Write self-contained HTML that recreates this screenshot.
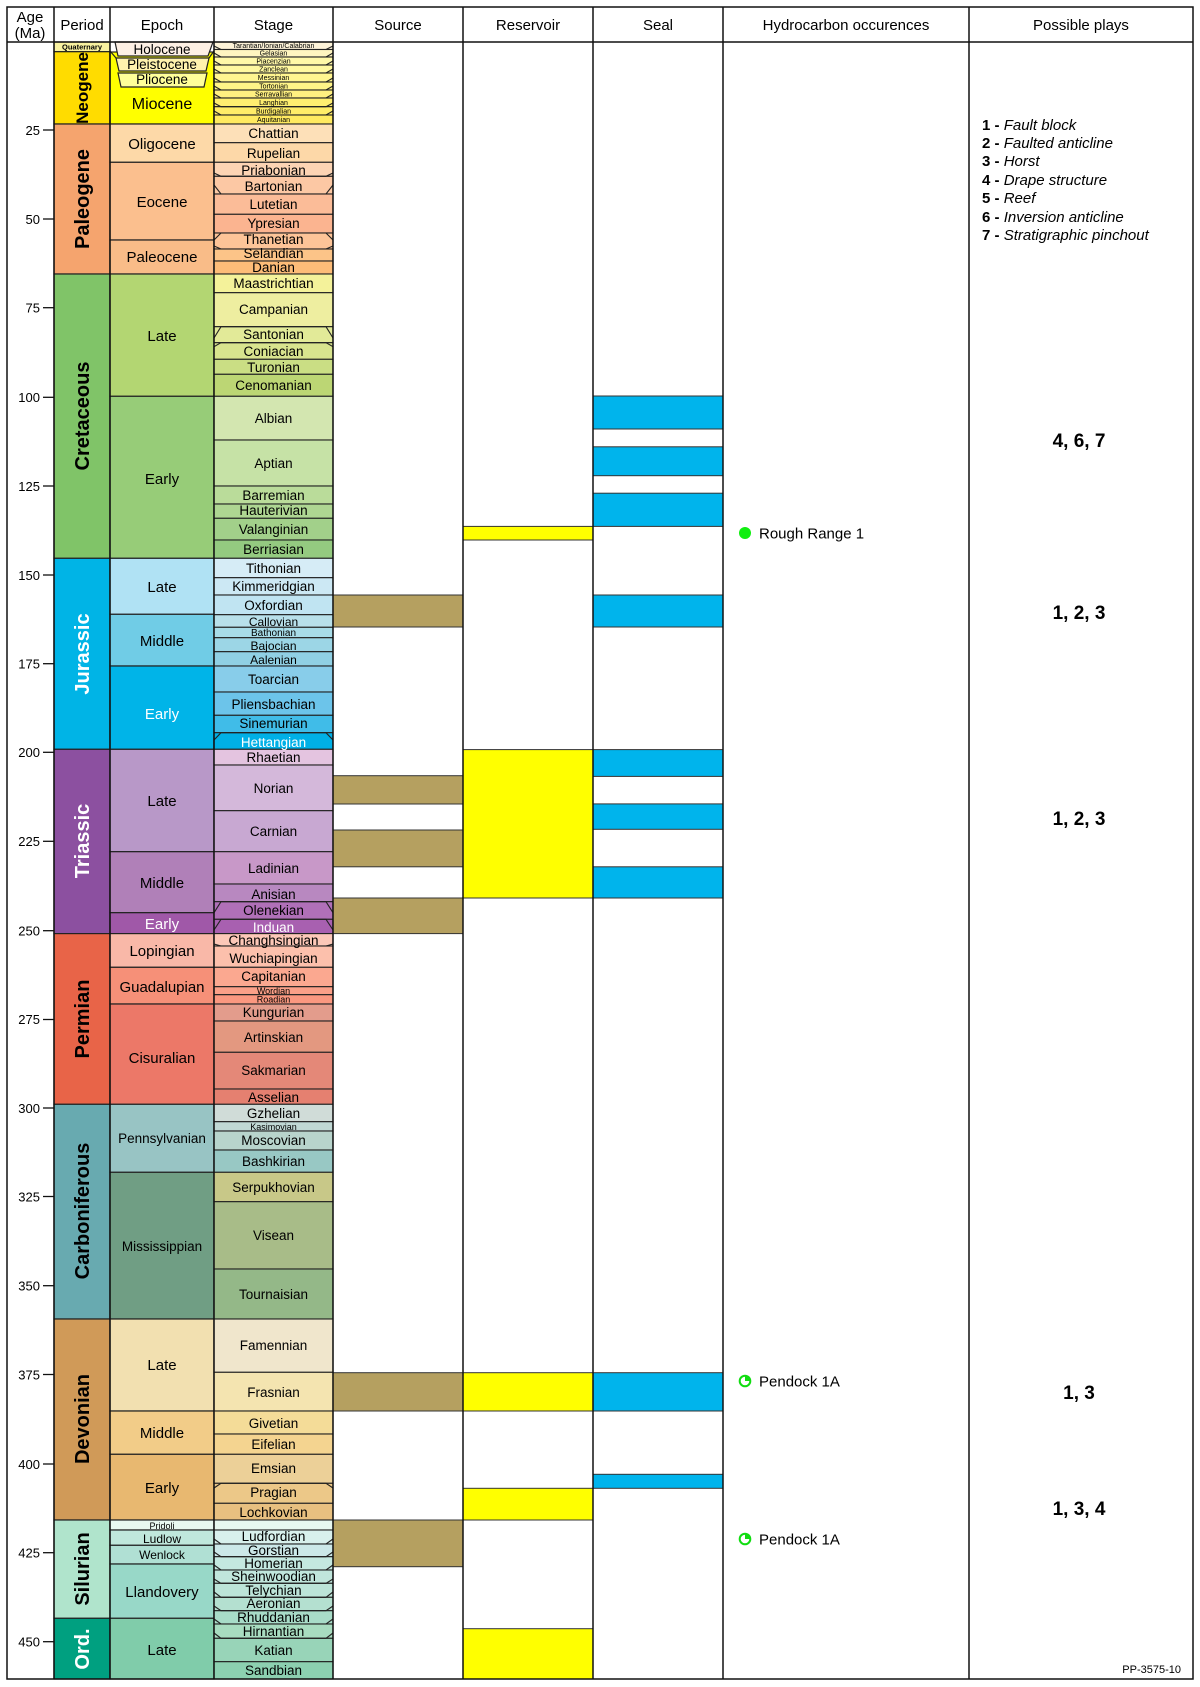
<!DOCTYPE html>
<html><head><meta charset="utf-8"><style>
html,body{margin:0;padding:0;background:#fff;}
svg{display:block;font-family:"Liberation Sans",Arial,sans-serif;}
</style></head><body>
<svg width="1200" height="1687" viewBox="0 0 1200 1687" xmlns="http://www.w3.org/2000/svg">
<rect x="0" y="0" width="1200" height="1687" fill="#fff"/>
<!-- periods -->
<g stroke="#222" stroke-width="1.2">
<rect x="54" y="42" width="56" height="9.7" fill="#f9f2a0"/>
<rect x="54" y="51.7" width="56" height="72.3" fill="#ffdc00"/>
<rect x="54" y="124" width="56" height="150" fill="#f5a46e"/>
<rect x="54" y="274" width="56" height="284.3" fill="#80c468"/>
<rect x="54" y="558.3" width="56" height="191" fill="#00b4e6"/>
<rect x="54" y="749.3" width="56" height="184.3" fill="#8c50a0"/>
<rect x="54" y="933.6" width="56" height="170.7" fill="#e86448"/>
<rect x="54" y="1104.3" width="56" height="214.7" fill="#68aab0"/>
<rect x="54" y="1319" width="56" height="201" fill="#d09a58"/>
<rect x="54" y="1520" width="56" height="98.3" fill="#b0e4cc"/>
<rect x="54" y="1618.3" width="56" height="60.7" fill="#00a080"/>
</g>
<g font-weight="bold" font-size="20" text-anchor="middle">
<text x="82" y="49.5" font-size="7.5" text-anchor="middle">Quaternary</text>
<text transform="translate(88,88) rotate(-90)" font-size="17">Neogene</text>
<text transform="translate(89,199) rotate(-90)">Paleogene</text>
<text transform="translate(89,416) rotate(-90)">Cretaceous</text>
<text transform="translate(89,654) rotate(-90)" fill="#fff">Jurassic</text>
<text transform="translate(89,841) rotate(-90)" fill="#fff">Triassic</text>
<text transform="translate(89,1019) rotate(-90)">Permian</text>
<text transform="translate(89,1211) rotate(-90)">Carboniferous</text>
<text transform="translate(89,1419) rotate(-90)">Devonian</text>
<text transform="translate(89,1569) rotate(-90)">Silurian</text>
<text transform="translate(89,1649) rotate(-90)" fill="#fff">Ord.</text>
</g>
<!-- epochs -->
<g stroke="#222" stroke-width="1.2">
<rect x="110" y="42" width="104" height="10" fill="#fff" stroke="none"/>
<rect x="110" y="52" width="104" height="72" fill="#ffff00"/>
<polygon points="115,42 213,42 208,56 118,56" fill="#fdf0e4"/>
<polygon points="116,58 209,58 206,71 119,71" fill="#fff2ae"/>
<polygon points="118,73 207,73 204,87 121,87" fill="#ffff99"/>
<polyline points="110,51 116,58" fill="none"/>
<polyline points="214,51 209,58" fill="none"/>
<polyline points="110,124 110,52" fill="none"/>
<rect x="110" y="124" width="104" height="38.3" fill="#fdd9a8"/>
<rect x="110" y="162.3" width="104" height="77.7" fill="#fbbf8e"/>
<rect x="110" y="240" width="104" height="34" fill="#f9bc88"/>
<rect x="110" y="274" width="104" height="122.3" fill="#b3d672"/>
<rect x="110" y="396.3" width="104" height="162" fill="#97cc78"/>
<rect x="110" y="558.3" width="104" height="56" fill="#b0e2f4"/>
<rect x="110" y="614.3" width="104" height="51.7" fill="#70cce6"/>
<rect x="110" y="666" width="104" height="83.3" fill="#00b4e8"/>
<rect x="110" y="749.3" width="104" height="102.4" fill="#b898c8"/>
<rect x="110" y="851.7" width="104" height="61" fill="#b080b8"/>
<rect x="110" y="912.7" width="104" height="20.9" fill="#a058a8"/>
<rect x="110" y="933.6" width="104" height="33.7" fill="#f9b8a8"/>
<rect x="110" y="967.3" width="104" height="36.7" fill="#f69078"/>
<rect x="110" y="1004" width="104" height="100.3" fill="#ec7868"/>
<rect x="110" y="1104.3" width="104" height="68" fill="#98c4c4"/>
<rect x="110" y="1172.3" width="104" height="146.7" fill="#709e84"/>
<rect x="110" y="1319" width="104" height="92" fill="#f2e0b0"/>
<rect x="110" y="1411" width="104" height="43.3" fill="#f2cc88"/>
<rect x="110" y="1454.3" width="104" height="65.7" fill="#e8b870"/>
<rect x="110" y="1520" width="104" height="10" fill="#e8f8f0"/>
<rect x="110" y="1530" width="104" height="15.3" fill="#c0e8dc"/>
<rect x="110" y="1545.3" width="104" height="18.7" fill="#b0e0d4"/>
<rect x="110" y="1564" width="104" height="54.3" fill="#98d8c8"/>
<rect x="110" y="1618.3" width="104" height="60.7" fill="#80ccaa"/>
</g>
<g font-size="15" text-anchor="middle">
<text x="162" y="54" font-size="13.5">Holocene</text>
<text x="162" y="69" font-size="13.5">Pleistocene</text>
<text x="162" y="84" font-size="13.5">Pliocene</text>
<text x="162" y="109" font-size="16">Miocene</text>
<text x="162" y="149">Oligocene</text>
<text x="162" y="207">Eocene</text>
<text x="162" y="262">Paleocene</text>
<text x="162" y="341">Late</text>
<text x="162" y="484">Early</text>
<text x="162" y="592">Late</text>
<text x="162" y="646">Middle</text>
<text x="162" y="719" fill="#fff">Early</text>
<text x="162" y="806">Late</text>
<text x="162" y="888">Middle</text>
<text x="162" y="929" fill="#fff">Early</text>
<text x="162" y="956">Lopingian</text>
<text x="162" y="992">Guadalupian</text>
<text x="162" y="1063">Cisuralian</text>
<text x="162" y="1143" font-size="13.5">Pennsylvanian</text>
<text x="162" y="1251" font-size="13.5">Mississippian</text>
<text x="162" y="1370">Late</text>
<text x="162" y="1438">Middle</text>
<text x="162" y="1493">Early</text>
<text x="162" y="1529" font-size="9">Pridoli</text>
<text x="162" y="1543" font-size="12">Ludlow</text>
<text x="162" y="1559" font-size="12">Wenlock</text>
<text x="162" y="1597">Llandovery</text>
<text x="162" y="1655">Late</text>
</g>
<!-- stages -->
<g stroke="#222" stroke-width="1.1">
<rect x="214" y="42" width="119" height="7.5" fill="#fdf3d8"/>
<rect x="214" y="49.5" width="119" height="7.5" fill="#fff5c0"/>
<rect x="214" y="57" width="119" height="8" fill="#fff8a8"/>
<rect x="214" y="65" width="119" height="8" fill="#fff8a0"/>
<rect x="214" y="73" width="119" height="9" fill="#fff590"/>
<rect x="214" y="82" width="119" height="8" fill="#fff488"/>
<rect x="214" y="90" width="119" height="8" fill="#fff080"/>
<rect x="214" y="98" width="119" height="8.7" fill="#ffee70"/>
<rect x="214" y="106.7" width="119" height="8.3" fill="#ffec68"/>
<rect x="214" y="115" width="119" height="9" fill="#ffea60"/>
<rect x="214" y="124" width="119" height="18.7" fill="#fde0b8"/>
<rect x="214" y="142.7" width="119" height="19.6" fill="#fdd8a8"/>
<rect x="214" y="162.3" width="119" height="14" fill="#fcd4b4"/>
<rect x="214" y="176.3" width="119" height="17.7" fill="#fcc8a4"/>
<rect x="214" y="194" width="119" height="20.3" fill="#fbbc98"/>
<rect x="214" y="214.3" width="119" height="18.7" fill="#fbb490"/>
<rect x="214" y="233" width="119" height="16" fill="#fdc498"/>
<rect x="214" y="249" width="119" height="12" fill="#fcc488"/>
<rect x="214" y="261" width="119" height="13" fill="#fdbc78"/>
<rect x="214" y="274" width="119" height="18.7" fill="#f4f29a"/>
<rect x="214" y="292.7" width="119" height="34" fill="#eeeea0"/>
<rect x="214" y="326.7" width="119" height="16" fill="#e2ea98"/>
<rect x="214" y="342.7" width="119" height="16.6" fill="#d8e48e"/>
<rect x="214" y="359.3" width="119" height="15" fill="#cade84"/>
<rect x="214" y="374.3" width="119" height="22" fill="#bcd674"/>
<rect x="214" y="396.3" width="119" height="43.7" fill="#d3e6b0"/>
<rect x="214" y="440" width="119" height="46" fill="#c6e2a6"/>
<rect x="214" y="486" width="119" height="18" fill="#badc9a"/>
<rect x="214" y="504" width="119" height="14.3" fill="#aed692"/>
<rect x="214" y="518.3" width="119" height="21.7" fill="#a2d08a"/>
<rect x="214" y="540" width="119" height="18.3" fill="#94ca80"/>
<rect x="214" y="558.3" width="119" height="19.4" fill="#d6ecf6"/>
<rect x="214" y="577.7" width="119" height="17.3" fill="#cce8f4"/>
<rect x="214" y="595" width="119" height="19.7" fill="#c0e4f2"/>
<rect x="214" y="614.7" width="119" height="12.6" fill="#b8e0ea"/>
<rect x="214" y="627.3" width="119" height="10.4" fill="#a8dce8"/>
<rect x="214" y="637.7" width="119" height="14" fill="#9cd6e6"/>
<rect x="214" y="651.7" width="119" height="14.3" fill="#90d0e4"/>
<rect x="214" y="666" width="119" height="26" fill="#88cdea"/>
<rect x="214" y="692" width="119" height="23.3" fill="#6cc4ea"/>
<rect x="214" y="715.3" width="119" height="17.4" fill="#40bce8"/>
<rect x="214" y="732.7" width="119" height="16.6" fill="#00b0e6"/>
<rect x="214" y="749.3" width="119" height="15.7" fill="#e4c4e0"/>
<rect x="214" y="765" width="119" height="45.7" fill="#d4b8da"/>
<rect x="214" y="810.7" width="119" height="41" fill="#c8a8d2"/>
<rect x="214" y="851.7" width="119" height="32.3" fill="#c898c8"/>
<rect x="214" y="884" width="119" height="17.7" fill="#b888c0"/>
<rect x="214" y="901.7" width="119" height="17.6" fill="#b070b8"/>
<rect x="214" y="919.3" width="119" height="14.3" fill="#a860b0"/>
<rect x="214" y="933.6" width="119" height="12.4" fill="#fcc8b8"/>
<rect x="214" y="946" width="119" height="21.3" fill="#fcc0ac"/>
<rect x="214" y="967.3" width="119" height="19.4" fill="#fba890"/>
<rect x="214" y="986.7" width="119" height="8" fill="#fba088"/>
<rect x="214" y="994.7" width="119" height="9.3" fill="#fb9880"/>
<rect x="214" y="1004" width="119" height="17" fill="#e39c8c"/>
<rect x="214" y="1021" width="119" height="31.3" fill="#e39880"/>
<rect x="214" y="1052.3" width="119" height="36.7" fill="#e48878"/>
<rect x="214" y="1089" width="119" height="15.3" fill="#e58070"/>
<rect x="214" y="1104.3" width="119" height="17.4" fill="#d0dcd8"/>
<rect x="214" y="1121.7" width="119" height="9.3" fill="#c0d8d4"/>
<rect x="214" y="1131" width="119" height="19" fill="#b8d4cc"/>
<rect x="214" y="1150" width="119" height="22.3" fill="#98c8c4"/>
<rect x="214" y="1172.3" width="119" height="29.4" fill="#c8c888"/>
<rect x="214" y="1201.7" width="119" height="67.3" fill="#a8bc88"/>
<rect x="214" y="1269" width="119" height="50" fill="#94b888"/>
<rect x="214" y="1319" width="119" height="53.3" fill="#f0e6cc"/>
<rect x="214" y="1372.3" width="119" height="38.7" fill="#f4e4b0"/>
<rect x="214" y="1411" width="119" height="23" fill="#f4dc98"/>
<rect x="214" y="1434" width="119" height="20.3" fill="#f4d490"/>
<rect x="214" y="1454.3" width="119" height="29" fill="#ecd098"/>
<rect x="214" y="1483.3" width="119" height="20" fill="#ecc888"/>
<rect x="214" y="1503.3" width="119" height="16.7" fill="#e8c080"/>
<rect x="214" y="1520" width="119" height="10" fill="#e8f8f0"/>
<rect x="214" y="1530" width="119" height="14" fill="#d8f0ec"/>
<rect x="214" y="1544" width="119" height="12.7" fill="#cce8e8"/>
<rect x="214" y="1556.7" width="119" height="13.3" fill="#c4e8e0"/>
<rect x="214" y="1570" width="119" height="13.3" fill="#c0e6dc"/>
<rect x="214" y="1583.3" width="119" height="14" fill="#bce4d8"/>
<rect x="214" y="1597.3" width="119" height="13.4" fill="#b4e0d0"/>
<rect x="214" y="1610.7" width="119" height="13.3" fill="#a8dcc8"/>
<rect x="214" y="1624" width="119" height="14.3" fill="#a8dcc0"/>
<rect x="214" y="1638.3" width="119" height="23.4" fill="#98d4b8"/>
<rect x="214" y="1661.7" width="119" height="17.3" fill="#8cd0b0"/>
</g>
<!-- kinks -->
<g stroke="#222" stroke-width="1.1" fill="none">
<polyline points="214,46 221,49.5 326,49.5 333,46"/>
<polyline points="214,53 221,57 326,57 333,53"/>
<polyline points="214,61 221,65 326,65 333,61"/>
<polyline points="214,69 221,73 326,73 333,69"/>
<polyline points="214,78 221,82 326,82 333,78"/>
<polyline points="214,86 221,90 326,90 333,86"/>
<polyline points="214,94 221,98 326,98 333,94"/>
<polyline points="214,103 221,106.7 326,106.7 333,103"/>
<polyline points="214,111 221,115 326,115 333,111"/>
<polyline points="214,173 221,176.3 326,176.3 333,173"/>
<polyline points="214,185 221,194 326,194 333,185"/>
<polyline points="214,240 221,233 326,233 333,240"/>
<polyline points="214,246 221,249 326,249 333,246"/>
<polyline points="214,338 221,326.7 326,326.7 333,338"/>
<polyline points="214,346.7 221,342.7 326,342.7 333,346.7"/>
<polyline points="214,740 221,732.7 326,732.7 333,740"/>
<polyline points="214,912.7 221,901.7 326,901.7 333,912.7"/>
<polyline points="214,930 221,919.3 326,919.3 333,930"/>
<polyline points="214,944 221,946 326,946 333,944"/>
<polyline points="214,1488 221,1483.3 326,1483.3 333,1488"/>
<polyline points="214,1539 221,1544 326,1544 333,1539"/>
<polyline points="214,1552 221,1556.7 326,1556.7 333,1552"/>
<polyline points="214,1565 221,1570 326,1570 333,1565"/>
<polyline points="214,1579 221,1583.3 326,1583.3 333,1579"/>
<polyline points="214,1592 221,1597.3 326,1597.3 333,1592"/>
<polyline points="214,1606 221,1610.7 326,1610.7 333,1606"/>
<polyline points="214,1619 221,1624 326,1624 333,1619"/>
<polyline points="214,1633 221,1638.3 326,1638.3 333,1633"/>
</g>
<g font-size="13.5" text-anchor="middle">
<g font-size="7">
<text x="273.5" y="48">Tarantian/Ionian/Calabrian</text>
<text x="273.5" y="55.5">Gelasian</text>
<text x="273.5" y="63.5">Piacenzian</text>
<text x="273.5" y="71.5">Zanclean</text>
<text x="273.5" y="80">Messinian</text>
<text x="273.5" y="88.5">Tortonian</text>
<text x="273.5" y="96.5">Serravallian</text>
<text x="273.5" y="105">Langhian</text>
<text x="273.5" y="113.5">Burdigalian</text>
<text x="273.5" y="122">Aquitanian</text>
</g>
<text x="273.5" y="138">Chattian</text>
<text x="273.5" y="158">Rupelian</text>
<text x="273.5" y="175">Priabonian</text>
<text x="273.5" y="191">Bartonian</text>
<text x="273.5" y="209">Lutetian</text>
<text x="273.5" y="228">Ypresian</text>
<text x="273.5" y="244">Thanetian</text>
<text x="273.5" y="258">Selandian</text>
<text x="273.5" y="272">Danian</text>
<text x="273.5" y="288">Maastrichtian</text>
<text x="273.5" y="314">Campanian</text>
<text x="273.5" y="339">Santonian</text>
<text x="273.5" y="356">Coniacian</text>
<text x="273.5" y="372">Turonian</text>
<text x="273.5" y="390">Cenomanian</text>
<text x="273.5" y="423">Albian</text>
<text x="273.5" y="468">Aptian</text>
<text x="273.5" y="500">Barremian</text>
<text x="273.5" y="515">Hauterivian</text>
<text x="273.5" y="534">Valanginian</text>
<text x="273.5" y="554">Berriasian</text>
<text x="273.5" y="573">Tithonian</text>
<text x="273.5" y="591">Kimmeridgian</text>
<text x="273.5" y="610">Oxfordian</text>
<text x="273.5" y="626" font-size="12">Callovian</text>
<text x="273.5" y="636" font-size="10">Bathonian</text>
<text x="273.5" y="650" font-size="12">Bajocian</text>
<text x="273.5" y="664" font-size="12">Aalenian</text>
<text x="273.5" y="684">Toarcian</text>
<text x="273.5" y="709">Pliensbachian</text>
<text x="273.5" y="728">Sinemurian</text>
<text x="273.5" y="747" fill="#fff">Hettangian</text>
<text x="273.5" y="762">Rhaetian</text>
<text x="273.5" y="793">Norian</text>
<text x="273.5" y="836">Carnian</text>
<text x="273.5" y="873">Ladinian</text>
<text x="273.5" y="899">Anisian</text>
<text x="273.5" y="915">Olenekian</text>
<text x="273.5" y="932" fill="#fff">Induan</text>
<text x="273.5" y="945">Changhsingian</text>
<text x="273.5" y="963">Wuchiapingian</text>
<text x="273.5" y="981">Capitanian</text>
<text x="273.5" y="994" font-size="9">Wordian</text>
<text x="273.5" y="1002.5" font-size="9">Roadian</text>
<text x="273.5" y="1017">Kungurian</text>
<text x="273.5" y="1042">Artinskian</text>
<text x="273.5" y="1075">Sakmarian</text>
<text x="273.5" y="1102">Asselian</text>
<text x="273.5" y="1118">Gzhelian</text>
<text x="273.5" y="1130" font-size="9">Kasimovian</text>
<text x="273.5" y="1145">Moscovian</text>
<text x="273.5" y="1166">Bashkirian</text>
<text x="273.5" y="1192">Serpukhovian</text>
<text x="273.5" y="1240">Visean</text>
<text x="273.5" y="1299">Tournaisian</text>
<text x="273.5" y="1350">Famennian</text>
<text x="273.5" y="1397">Frasnian</text>
<text x="273.5" y="1428">Givetian</text>
<text x="273.5" y="1449">Eifelian</text>
<text x="273.5" y="1473">Emsian</text>
<text x="273.5" y="1497">Pragian</text>
<text x="273.5" y="1517">Lochkovian</text>
<text x="273.5" y="1541">Ludfordian</text>
<text x="273.5" y="1555">Gorstian</text>
<text x="273.5" y="1568">Homerian</text>
<text x="273.5" y="1581">Sheinwoodian</text>
<text x="273.5" y="1595">Telychian</text>
<text x="273.5" y="1608">Aeronian</text>
<text x="273.5" y="1622">Rhuddanian</text>
<text x="273.5" y="1636">Hirnantian</text>
<text x="273.5" y="1655">Katian</text>
<text x="273.5" y="1675">Sandbian</text>
</g>
<!-- source / reservoir / seal -->
<g stroke="#333" stroke-width="1">
<rect x="333" y="595" width="130" height="32" fill="#b5a060"/>
<rect x="333" y="775.7" width="130" height="28.3" fill="#b5a060"/>
<rect x="333" y="830" width="130" height="36.8" fill="#b5a060"/>
<rect x="333" y="898" width="130" height="35.6" fill="#b5a060"/>
<rect x="333" y="1372.7" width="130" height="38.3" fill="#b5a060"/>
<rect x="333" y="1520" width="130" height="46.7" fill="#b5a060"/>
<rect x="463" y="526.4" width="130" height="13.6" fill="#ffff00"/>
<rect x="463" y="749.6" width="130" height="148.4" fill="#ffff00"/>
<rect x="463" y="1372.7" width="130" height="38.3" fill="#ffff00"/>
<rect x="463" y="1488.3" width="130" height="31.7" fill="#ffff00"/>
<rect x="463" y="1628.7" width="130" height="50.3" fill="#ffff00"/>
<rect x="593" y="396" width="130" height="33" fill="#00b4ec"/>
<rect x="593" y="446.8" width="130" height="28.9" fill="#00b4ec"/>
<rect x="593" y="493.2" width="130" height="33.2" fill="#00b4ec"/>
<rect x="593" y="595" width="130" height="32" fill="#00b4ec"/>
<rect x="593" y="749.6" width="130" height="26.8" fill="#00b4ec"/>
<rect x="593" y="803.9" width="130" height="25.4" fill="#00b4ec"/>
<rect x="593" y="866.8" width="130" height="31.2" fill="#00b4ec"/>
<rect x="593" y="1372.7" width="130" height="38.3" fill="#00b4ec"/>
<rect x="593" y="1474.3" width="130" height="14" fill="#00b4ec"/>
</g>
<!-- grid -->
<g stroke="#111" stroke-width="1.5" fill="none">
<rect x="7" y="7" width="1186" height="1672"/>
<line x1="7" y1="42" x2="1193" y2="42"/>
<line x1="54" y1="7" x2="54" y2="1679"/>
<line x1="110" y1="7" x2="110" y2="1679"/>
<line x1="214" y1="7" x2="214" y2="1679"/>
<line x1="333" y1="7" x2="333" y2="1679"/>
<line x1="463" y1="7" x2="463" y2="1679"/>
<line x1="593" y1="7" x2="593" y2="1679"/>
<line x1="723" y1="7" x2="723" y2="1679"/>
<line x1="969" y1="7" x2="969" y2="1679"/>
</g>
<!-- headers -->
<g font-size="15" text-anchor="middle">
<text x="30" y="22">Age</text>
<text x="30" y="38">(Ma)</text>
<text x="82" y="30">Period</text>
<text x="162" y="30">Epoch</text>
<text x="273.5" y="30">Stage</text>
<text x="398" y="30">Source</text>
<text x="528" y="30">Reservoir</text>
<text x="658" y="30">Seal</text>
<text x="846" y="30">Hydrocarbon occurences</text>
<text x="1081" y="30">Possible plays</text>
</g>
<!-- age axis -->
<g stroke="#111" stroke-width="1.3">
<line x1="43" y1="130" x2="54" y2="130"/><line x1="43" y1="219" x2="54" y2="219"/>
<line x1="43" y1="307.7" x2="54" y2="307.7"/><line x1="43" y1="397.3" x2="54" y2="397.3"/>
<line x1="43" y1="486" x2="54" y2="486"/><line x1="43" y1="575" x2="54" y2="575"/>
<line x1="43" y1="663.7" x2="54" y2="663.7"/><line x1="43" y1="752.3" x2="54" y2="752.3"/>
<line x1="43" y1="841.3" x2="54" y2="841.3"/><line x1="43" y1="930.7" x2="54" y2="930.7"/>
<line x1="43" y1="1019.5" x2="54" y2="1019.5"/><line x1="43" y1="1108" x2="54" y2="1108"/>
<line x1="43" y1="1196.5" x2="54" y2="1196.5"/><line x1="43" y1="1285.7" x2="54" y2="1285.7"/>
<line x1="43" y1="1374.5" x2="54" y2="1374.5"/><line x1="43" y1="1464" x2="54" y2="1464"/>
<line x1="43" y1="1552.7" x2="54" y2="1552.7"/><line x1="43" y1="1641.7" x2="54" y2="1641.7"/>
</g>
<g font-size="13" text-anchor="end">
<text x="40" y="135">25</text><text x="40" y="224">50</text><text x="40" y="312.5">75</text>
<text x="40" y="402">100</text><text x="40" y="491">125</text><text x="40" y="580">150</text>
<text x="40" y="668.5">175</text><text x="40" y="757">200</text><text x="40" y="846">225</text>
<text x="40" y="935.5">250</text><text x="40" y="1024">275</text><text x="40" y="1113">300</text>
<text x="40" y="1201.5">325</text><text x="40" y="1290.5">350</text><text x="40" y="1379.5">375</text>
<text x="40" y="1469">400</text><text x="40" y="1557.5">425</text><text x="40" y="1646.5">450</text>
</g>
<!-- hydrocarbon occurrences -->
<circle cx="745" cy="533" r="6" fill="#11ee11"/>
<text x="759" y="538.5" font-size="15">Rough Range 1</text>
<g>
<circle cx="745" cy="1381" r="5.3" fill="#fff" stroke="#11dd11" stroke-width="2"/>
<path d="M745,1381 L745,1376 A5,5 0 0,1 750,1381 Z" fill="#11dd11"/>
<text x="759" y="1386.5" font-size="15">Pendock 1A</text>
<circle cx="745" cy="1539" r="5.3" fill="#fff" stroke="#11dd11" stroke-width="2"/>
<path d="M745,1539 L745,1534 A5,5 0 0,1 750,1539 Z" fill="#11dd11"/>
<text x="759" y="1544.5" font-size="15">Pendock 1A</text>
</g>
<!-- plays -->
<g font-size="15">
<text x="982" y="130"><tspan font-weight="bold">1 - </tspan><tspan font-style="italic">Fault block</tspan></text>
<text x="982" y="148"><tspan font-weight="bold">2 - </tspan><tspan font-style="italic">Faulted anticline</tspan></text>
<text x="982" y="166"><tspan font-weight="bold">3 - </tspan><tspan font-style="italic">Horst</tspan></text>
<text x="982" y="185"><tspan font-weight="bold">4 - </tspan><tspan font-style="italic">Drape structure</tspan></text>
<text x="982" y="203"><tspan font-weight="bold">5 - </tspan><tspan font-style="italic">Reef</tspan></text>
<text x="982" y="222"><tspan font-weight="bold">6 - </tspan><tspan font-style="italic">Inversion anticline</tspan></text>
<text x="982" y="240"><tspan font-weight="bold">7 - </tspan><tspan font-style="italic">Stratigraphic pinchout</tspan></text>
</g>
<g font-size="19" font-weight="bold" text-anchor="middle">
<text x="1079" y="447">4, 6, 7</text>
<text x="1079" y="619">1, 2, 3</text>
<text x="1079" y="825">1, 2, 3</text>
<text x="1079" y="1399">1, 3</text>
<text x="1079" y="1515">1, 3, 4</text>
</g>
<text x="1181" y="1673" font-size="11" text-anchor="end">PP-3575-10</text>
</svg>
</body></html>
